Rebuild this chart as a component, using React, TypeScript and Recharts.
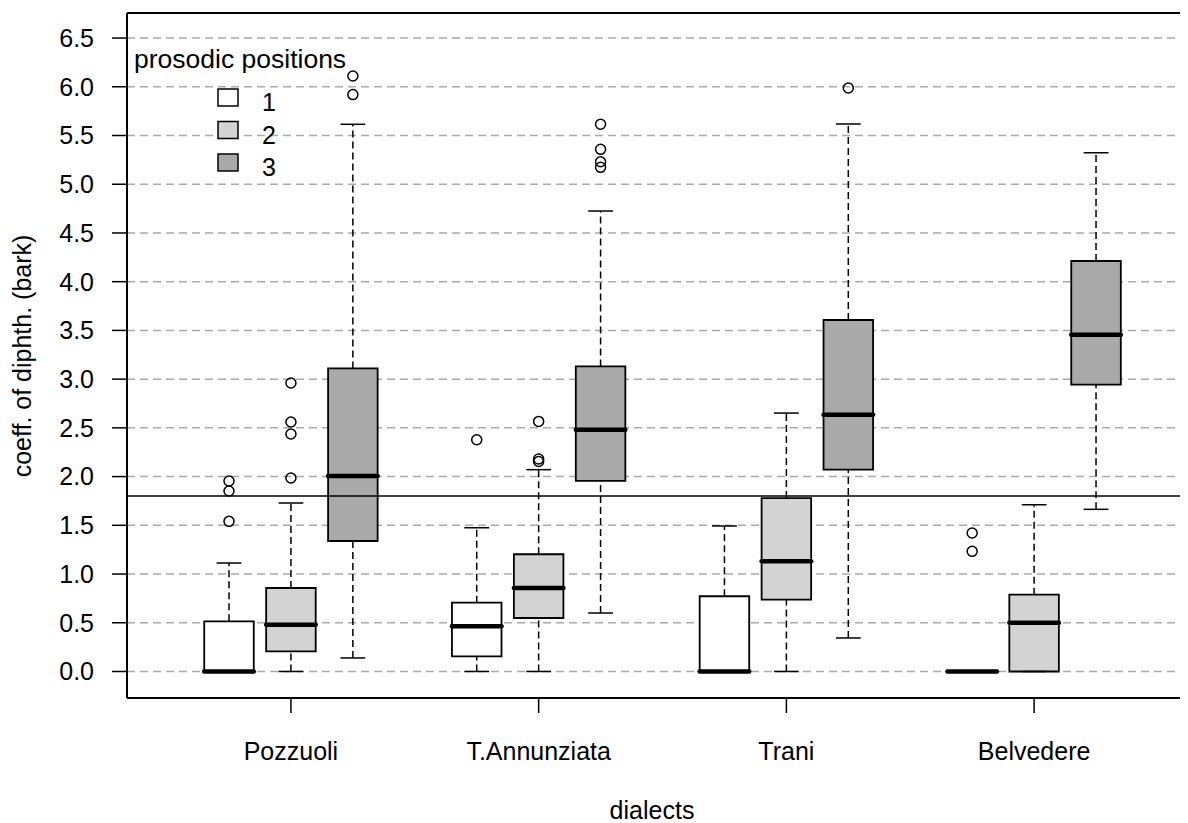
import React from 'react';
import {
  ComposedChart,
  XAxis,
  YAxis,
  CartesianGrid,
  ReferenceArea,
  ReferenceLine,
  Scatter,
  Customized,
} from 'recharts';

// ---------- data ----------
const dialects = ['Pozzuoli', 'T.Annunziata', 'Trani', 'Belvedere'];
const positionLabels = ['1', '2', '3'];
const positionFills = ['#ffffff', '#d3d3d3', '#a9a9a9'];
const yTicks = [0, 0.5, 1, 1.5, 2, 2.5, 3, 3.5, 4, 4.5, 5, 5.5, 6, 6.5];
const threshold = 1.8;

// prosodic position 1 (per dialect)
const lower1 = [0, 0, 0, 0];
const q1_1 = [0, 0.156, 0, 0];
const median1 = [0, 0.464, 0, 0];
const q3_1 = [0.515, 0.706, 0.772, 0];
const upper1 = [1.113, 1.475, 1.493, 0];
const outliers1 = [[1.541, 1.852, 1.955], [2.378], [], [1.233, 1.421]];

// prosodic position 2
const lower2 = [0, 0, 0, 0];
const q1_2 = [0.207, 0.549, 0.737, 0];
const median2 = [0.48, 0.857, 1.131, 0.501];
const q3_2 = [0.857, 1.203, 1.78, 0.788];
const upper2 = [1.729, 2.071, 2.652, 1.711];
const outliers2 = [[1.985, 2.437, 2.56, 2.96], [2.155, 2.18, 2.566], [], []];

// prosodic position 3
const lower3 = [0.139, 0.6, 0.344, 1.664];
const q1_3 = [1.339, 1.955, 2.071, 2.943];
const median3 = [2.006, 2.481, 2.635, 3.456];
const q3_3 = [3.11, 3.13, 3.607, 4.212];
const upper3 = [5.615, 4.725, 5.618, 5.323];
const outliers3 = [[5.92, 6.11], [5.173, 5.231, 5.358, 5.615], [5.987], []];

// ---------- derived ----------
const stats = [
  { lower: lower1, q1: q1_1, med: median1, q3: q3_1, upper: upper1, out: outliers1 },
  { lower: lower2, q1: q1_2, med: median2, q3: q3_2, upper: upper2, out: outliers2 },
  { lower: lower3, q1: q1_3, med: median3, q3: q3_3, upper: upper3, out: outliers3 },
];

const HALF = 0.4; // half box width (boxwex 0.8)
const CAP = 0.2; // half staple width

type Box = {
  x: number; pos: number; lower: number; q1: number; med: number; q3: number; upper: number;
};
const boxes: Box[] = [];
const outlierData: { x: number; y: number }[] = [];
dialects.forEach((_, d) => {
  stats.forEach((s, p) => {
    const x = d * 4 + p + 1;
    boxes.push({ x, pos: p, lower: s.lower[d], q1: s.q1[d], med: s.med[d], q3: s.q3[d], upper: s.upper[d] });
    s.out[d].forEach((v) => outlierData.push({ x, y: v }));
  });
});

const groupTicks = dialects.map((_, d) => d * 4 + 2);
const X_DOMAIN: [number, number] = [-0.647, 16.485];
const Y_DOMAIN: [number, number] = [-0.272, 6.757];

const FONT = '"Liberation Sans", Arial, Helvetica, sans-serif';
const FS = 25;

const LegendBox = () => (
  <g fontFamily={FONT} fill="#000">
    <text x={126} y={60} fontSize={26.5}>prosodic positions</text>
    {positionLabels.map((lab, i) => (
      <g key={lab}>
        <rect x={210} y={81 + i * 32.5} width={20} height={17} fill={positionFills[i]} stroke="#000" strokeWidth={1.5} />
        <text x={254} y={103 + i * 32.5} fontSize={FS}>{lab}</text>
      </g>
    ))}
  </g>
);

const OutlierShape = (props: any) => (
  <circle cx={props.cx} cy={props.cy} r={5} fill="none" stroke="#000" strokeWidth={1.5} />
);

export default function App() {
  return (
    <div style={{ width: 1180, height: 815, fontFamily: FONT }}>
      <ComposedChart
        width={1180}
        height={815}
        margin={{ top: 5, right: 0, bottom: 0, left: 0 }}
        style={{ fontFamily: FONT }}
      >
        <CartesianGrid
          vertical={false}
          stroke="#aaaaaa"
          strokeWidth={1.5}
          strokeDasharray="8 5"
          horizontalValues={yTicks}
        />
        <XAxis
          type="number"
          dataKey="x"
          domain={X_DOMAIN}
          allowDataOverflow
          ticks={groupTicks}
          interval={0}
          tickFormatter={(v: number) => dialects[(v - 2) / 4] ?? ''}
          height={125}
          axisLine={{ stroke: '#000', strokeWidth: 2 }}
          tickLine={{ stroke: '#000', strokeWidth: 1.5 }}
          tickSize={15}
          tickMargin={29}
          tick={{ fill: '#000', fontSize: FS, fontFamily: FONT }}
          label={{
            content: () => (
              <text x={644} y={811} textAnchor="middle" fontSize={FS} fontFamily={FONT} fill="#000">
                dialects
              </text>
            ),
          }}
        />
        <YAxis
          type="number"
          dataKey="y"
          domain={Y_DOMAIN}
          allowDataOverflow
          ticks={yTicks}
          interval={0}
          tickFormatter={(v: number) => v.toFixed(1)}
          width={119}
          axisLine={{ stroke: '#000', strokeWidth: 2 }}
          tickLine={{ stroke: '#000', strokeWidth: 1.5 }}
          tickSize={15}
          tickMargin={18}
          tick={{ fill: '#000', fontSize: FS, fontFamily: FONT }}
          label={{
            content: () => (
              <text
                x={14}
                y={348}
                transform="rotate(-90, 14, 348)"
                textAnchor="middle"
                dominantBaseline="central"
                fontSize={FS}
                fontFamily={FONT}
                fill="#000"
              >
                coeff. of diphth. (bark)
              </text>
            ),
          }}
        />

        {/* whiskers */}
        {boxes.map((b) => (
          <ReferenceLine
            key={`wu${b.x}`}
            segment={[{ x: b.x, y: b.q3 }, { x: b.x, y: b.upper }]}
            stroke="#000"
            strokeWidth={1.5}
            strokeDasharray="7 4"
          />
        ))}
        {boxes.map((b) => (
          <ReferenceLine
            key={`wl${b.x}`}
            segment={[{ x: b.x, y: b.lower }, { x: b.x, y: b.q1 }]}
            stroke="#000"
            strokeWidth={1.5}
            strokeDasharray="7 4"
          />
        ))}
        {/* staples */}
        {boxes.map((b) => (
          <ReferenceLine
            key={`cu${b.x}`}
            segment={[{ x: b.x - CAP, y: b.upper }, { x: b.x + CAP, y: b.upper }]}
            stroke="#000"
            strokeWidth={1.5}
          />
        ))}
        {boxes.map((b) => (
          <ReferenceLine
            key={`cl${b.x}`}
            segment={[{ x: b.x - CAP, y: b.lower }, { x: b.x + CAP, y: b.lower }]}
            stroke="#000"
            strokeWidth={1.5}
          />
        ))}
        {/* boxes */}
        {boxes.map((b) => (
          <ReferenceArea
            key={`b${b.x}`}
            x1={b.x - HALF}
            x2={b.x + HALF}
            y1={b.q1}
            y2={b.q3}
            fill={positionFills[b.pos]}
            fillOpacity={1}
            stroke="#000"
            strokeWidth={1.8}
          />
        ))}
        {/* medians */}
        {boxes.map((b) => (
          <ReferenceLine
            key={`m${b.x}`}
            segment={[{ x: b.x - HALF, y: b.med }, { x: b.x + HALF, y: b.med }]}
            stroke="#000"
            strokeWidth={4.5}
            strokeLinecap="round"
          />
        ))}
        <ReferenceLine y={threshold} stroke="#000" strokeWidth={1.5} />
        <ReferenceLine y={Y_DOMAIN[1]} stroke="#000" strokeWidth={2} />

        <Scatter data={outlierData} dataKey="y" shape={OutlierShape} isAnimationActive={false} />
        <Customized component={<LegendBox />} />
      </ComposedChart>
    </div>
  );
}
